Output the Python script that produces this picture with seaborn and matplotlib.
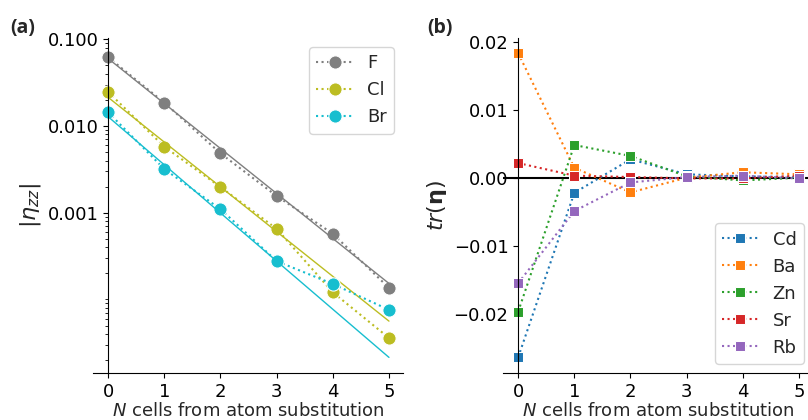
import numpy as np
import matplotlib
matplotlib.use("Agg")
import matplotlib.pyplot as plt
import matplotlib.ticker as mticker
import seaborn as sns

# ---------------- data ----------------
N = [0, 1, 2, 3, 4, 5]

# panel (a): |eta_zz|
eta_F = [0.062, 0.0186, 0.00484, 0.00156, 0.000573, 0.000136]
eta_Cl = [0.0247, 0.00577, 0.00198, 0.000653, 0.000121, 0.000036]
eta_Br = [0.0144, 0.00319, 0.00110, 0.000277, 0.000151, 0.000076]
# exponential fits (values at N=0 and N=5)
fit_F = [0.060, 0.000153]
fit_Cl = [0.0214, 0.0000563]
fit_Br = [0.0128, 0.0000215]
labels_a = ["F", "Cl", "Br"]
colors_a = ["#7f7f7f", "#bcbd22", "#17becf"]

# panel (b): tr(eta)
tr_Cd = [-0.0263, -0.00212, 0.0028, 0.0006, 0.0003, 0.0002]
tr_Ba = [0.0184, 0.00156, -0.00206, 0.0001, 0.0009, 0.0006]
tr_Zn = [-0.0196, 0.0049, 0.0033, 0.0003, -0.0003, 0.0001]
tr_Sr = [0.00225, 0.0004, 0.0002, 0.0, 0.0, 0.0004]
tr_Rb = [-0.0154, -0.0048, -0.0006, 0.0002, 0.0004, 0.0]
labels_b = ["Cd", "Ba", "Zn", "Sr", "Rb"]
colors_b = ["#1f77b4", "#ff7f0e", "#2ca02c", "#d62728", "#9467bd"]

# ---------------- style ----------------
sns.set_style("ticks")
plt.rcParams["font.family"] = ["DejaVu Sans"]
plt.rcParams["mathtext.fontset"] = "dejavusans"
plt.rcParams["axes.edgecolor"] = "black"
plt.rcParams["xtick.color"] = "black"
plt.rcParams["ytick.color"] = "black"

FS = 13

fig = plt.figure(figsize=(8.08, 4.2), dpi=100)
axa = fig.add_axes([93 / 808, 1 - 373 / 420, 310 / 808, 335 / 420])
axb = fig.add_axes([503 / 808, 1 - 373 / 420, 310 / 808, 335 / 420])

# ---------------- panel (a) ----------------
for vals, fit, lab, c in zip([eta_F, eta_Cl, eta_Br], [fit_F, fit_Cl, fit_Br],
                             labels_a, colors_a):
    sns.lineplot(x=N, y=vals, ax=axa, color=c, marker="o", linestyle=":",
                 lw=1.5, ms=9.5, label=lab)
    sns.lineplot(x=[N[0], N[-1]], y=fit, ax=axa, color=c, lw=1.0)

axa.set_yscale("log")
axa.set_xlim(-0.27, 5.25)
axa.set_ylim(1.42e-5, 0.1035)
axa.set_xticks(N)
axa.yaxis.set_major_locator(mticker.FixedLocator([0.001, 0.01, 0.1]))
axa.yaxis.set_major_formatter(mticker.FormatStrFormatter("%.3f"))
axa.yaxis.set_minor_locator(mticker.LogLocator(base=10, subs=np.arange(1, 10), numticks=20))
axa.yaxis.set_minor_formatter(mticker.NullFormatter())
axa.spines["left"].set_position(("data", 0))
axa.spines["top"].set_visible(False)
axa.spines["right"].set_visible(False)
axa.tick_params(labelsize=FS)
axa.set_xlabel(r"$N$ cells from atom substitution", fontsize=FS, labelpad=1)
axa.set_ylabel(r"$|\eta_{zz}|$", fontsize=16)
axa.yaxis.set_label_coords(-0.16, 0.5)
axa.legend(loc="upper right", fontsize=FS)
fig.text(10 / 808, 1 - 28 / 420, "(a)", fontsize=14, fontweight="bold",
         va="center", family=["Open Sans", "DejaVu Sans"])

# ---------------- panel (b) ----------------
axb.axhline(0, color="black", lw=1.5, zorder=1)
for vals, lab, c in zip([tr_Cd, tr_Ba, tr_Zn, tr_Sr, tr_Rb], labels_b, colors_b):
    sns.lineplot(x=N, y=vals, ax=axb, color=c, marker="s", linestyle=":",
                 lw=1.5, ms=7.5, label=lab)

axb.set_xlim(-0.27, 5.25)
axb.set_ylim(-0.0286, 0.02063)
axb.set_xticks(N)
axb.set_yticks([-0.02, -0.01, 0.0, 0.01, 0.02])
axb.yaxis.set_major_formatter(mticker.FuncFormatter(
    lambda v, p: ("\u2212" if v < -1e-9 else "") + f"{abs(v):.2f}"))
axb.spines["left"].set_position(("data", 0))
axb.spines["top"].set_visible(False)
axb.spines["right"].set_visible(False)
axb.tick_params(labelsize=FS)
axb.set_xlabel(r"$N$ cells from atom substitution", fontsize=FS, labelpad=1)
axb.set_ylabel(r"$tr(\mathbf{\eta})$", fontsize=16)
axb.yaxis.set_label_coords(-0.175, 0.5)
axb.legend(loc="lower right", fontsize=FS)
fig.text(427 / 808, 1 - 28 / 420, "(b)", fontsize=14, fontweight="bold",
         va="center", family=["Open Sans", "DejaVu Sans"])

fig.savefig("out.png", dpi=100)
